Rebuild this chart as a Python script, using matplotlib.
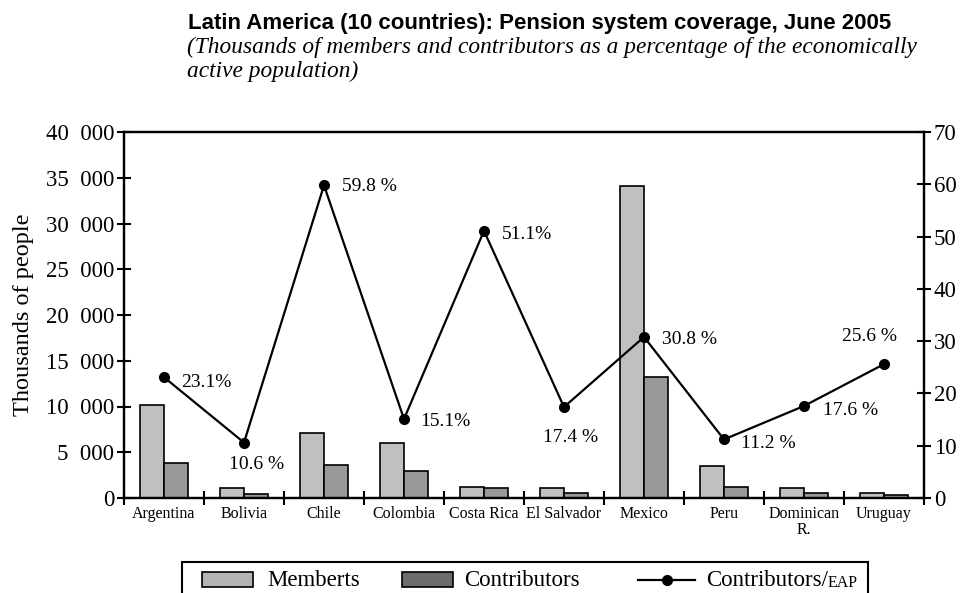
import matplotlib
matplotlib.use("Agg")
import matplotlib.pyplot as plt
from matplotlib.patches import Rectangle
from matplotlib.lines import Line2D
import numpy as np

plt.rcParams['font.family'] = ['Liberation Serif', 'DejaVu Serif']

countries = ["Argentina", "Bolivia", "Chile", "Colombia", "Costa Rica",
             "El Salvador", "Mexico", "Peru", "Dominican\nR.", "Uruguay"]
members = [10200, 1050, 7150, 6050, 1250, 1050, 34100, 3500, 1050, 600]
contributors = [3850, 400, 3650, 3000, 1050, 600, 13250, 1250, 600, 350]
pct = [23.1, 10.6, 59.8, 15.1, 51.1, 17.4, 30.8, 11.2, 17.6, 25.6]
pct_labels = ["23.1%", "10.6 %", "59.8 %", "15.1%", "51.1%", "17.4 %",
              "30.8 %", "11.2 %", "17.6 %", "25.6 %"]
yticks_left = [0, 5000, 10000, 15000, 20000, 25000, 30000, 35000, 40000]
yticks_right = [0, 10, 20, 30, 40, 50, 60, 70]

# label offsets in points (dx, dy)
label_offsets = [(12, -4), (-11, -16), (13, -1), (12, -2), (13, -3), (-15, -22),
                 (13, -2), (12, -3), (14, -3), (-30, 20)]

W, H = 969, 593
fig = plt.figure(figsize=(W / 100, H / 100), dpi=100)
ax = fig.add_axes([124 / W, 1 - 498 / H, 800 / W, 366 / H])

x = np.arange(len(countries))
bw = 0.3
ax.bar(x - bw / 2, members, bw, color="#c0c0c0", edgecolor="black", linewidth=1.2, zorder=2)
ax.bar(x + bw / 2, contributors, bw, color="#999999", edgecolor="black", linewidth=1.2, zorder=2)
ax.set_xlim(-0.5, len(countries) - 0.5)
ax.set_ylim(0, 40000)
ax.set_yticks(yticks_left)
ax.set_yticklabels([f"{v:,}".replace(",", "  ") for v in yticks_left], fontsize=16.5)
ax.set_ylabel("Thousands of people", fontsize=17.5)
ax.yaxis.set_label_coords(-(124 - 34) / 800, 0.5)
ax.set_xticks(x)
ax.set_xticklabels(countries, fontsize=11.5, linespacing=1.0)
ax.tick_params(axis='x', which='major', length=0, pad=6)
ax.set_xticks(np.arange(len(countries) + 1) - 0.5, minor=True)
ax.tick_params(axis='x', which='minor', direction='inout', length=10, width=1.5)
ax.tick_params(axis='y', direction='inout', length=10, width=1.5, pad=2)
for s in ax.spines.values():
    s.set_linewidth(1.6)

ax2 = ax.twinx()
ax2.plot(x, pct, color="black", linewidth=1.6, marker='o', markersize=7, zorder=3)
ax2.set_ylim(0, 70)
ax2.set_yticks(yticks_right)
ax2.set_yticklabels([str(v) for v in yticks_right], fontsize=16.5)
ax2.tick_params(axis='y', direction='inout', length=10, width=1.5, pad=2)
for s in ax2.spines.values():
    s.set_linewidth(1.6)

for xi, p, lab, (dx, dy) in zip(x, pct, pct_labels, label_offsets):
    ax2.annotate(lab, (xi, p), xytext=(dx, dy), textcoords='offset points',
                 fontsize=14, ha='left', va='center')

fig.text(188 / W, 1 - 23 / H, "Latin America (10 countries): Pension system coverage, June 2005",
         fontsize=16, fontweight='bold', family=['Liberation Sans'], va='center', ha='left')
fig.text(187 / W, 1 - 47 / H, "(Thousands of members and contributors as a percentage of the economically",
         fontsize=16.8, style='italic', va='center', ha='left')
fig.text(187 / W, 1 - 71 / H, "active population)",
         fontsize=16.8, style='italic', va='center', ha='left')

# legend (drawn manually in pixel coordinates of the figure)
def fx(px):
    return px / W

def fy(py):
    return 1 - py / H

fig.add_artist(Rectangle((fx(182), fy(605)), fx(868) - fx(182), fy(562) - fy(605),
                         transform=fig.transFigure, facecolor='white', edgecolor='black',
                         linewidth=1.5))
fig.add_artist(Rectangle((fx(202), fy(587)), fx(253) - fx(202), fy(572) - fy(587),
                         transform=fig.transFigure, facecolor="#b4b4b4", edgecolor='black',
                         linewidth=1.2))
fig.add_artist(Rectangle((fx(402), fy(587)), fx(453) - fx(402), fy(572) - fy(587),
                         transform=fig.transFigure, facecolor="#6c6c6c", edgecolor='black',
                         linewidth=1.2))
fig.add_artist(Line2D([fx(638), fx(695)], [fy(579.5), fy(579.5)], transform=fig.transFigure,
                      color='black', linewidth=1.6))
fig.add_artist(Line2D([fx(666.5)], [fy(579.5)], transform=fig.transFigure,
                      color='black', marker='o', markersize=7))
ty = fy(580)
fig.text(fx(267), ty, "Memberts", fontsize=16.5, va='center', ha='left')
fig.text(fx(464), ty, "Contributors", fontsize=16.5, va='center', ha='left')
t3 = fig.text(fx(706), ty, "Contributors/", fontsize=16.5, va='center', ha='left')
fig.canvas.draw()
bb = t3.get_window_extent()
fig.text(bb.x1 / W, fy(587), "EAP", fontsize=11.5, ha='left', va='baseline')

fig.savefig("out.png", dpi=100)
